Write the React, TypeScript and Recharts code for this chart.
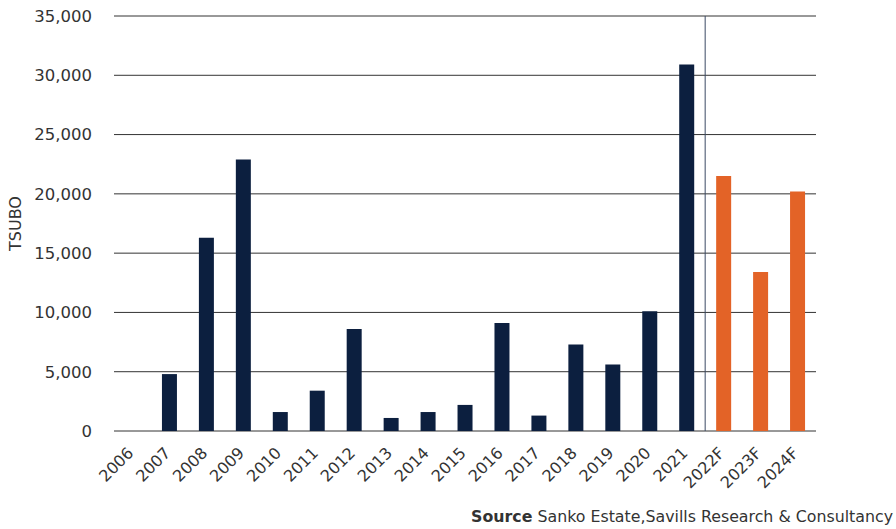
import React from 'react';
import { BarChart, Bar, XAxis, YAxis, CartesianGrid, ReferenceLine, Cell } from 'recharts';

const categories = ['2006','2007','2008','2009','2010','2011','2012','2013','2014','2015','2016','2017','2018','2019','2020','2021','2022F','2023F','2024F'];
const values = [0, 4800, 16300, 22900, 1600, 3400, 8600, 1100, 1600, 2200, 9100, 1300, 7300, 5600, 10100, 30900, 21500, 13400, 20200];
const yTicks = [0, 5000, 10000, 15000, 20000, 25000, 30000, 35000];
const lastActual = '2021';

const ACTUAL = '#0c1f3f';
const FORECAST = '#e36327';
const FONT = '"DejaVu Sans", sans-serif';
const TEXT = '#333333';

const W = 896;
const H = 529;
const MARGIN = { top: 16, right: 80, bottom: 38, left: 0 };
const Y_AXIS_W = 114;
const halfBand = (W - MARGIN.left - MARGIN.right - Y_AXIS_W) / categories.length / 2;

const data = categories.map((c, i) => ({ year: c, value: values[i], forecast: c.endsWith('F') }));

const fmt = (v: number) => v.toLocaleString('en-US');

const XTick = (props: any) => {
  const { x, y, payload } = props;
  return (
    <g transform={`translate(${x + 2},${y + 15})`}>
      <text x={0} y={0} textAnchor="end" transform="rotate(-45)" fill={TEXT} fontSize={16} fontFamily={FONT}>
        {payload.value}
      </text>
    </g>
  );
};

const DividerShape = (p: any) => {
  const x = p.x1 + halfBand;
  return <line x1={x} y1={p.y1} x2={x} y2={p.y2} stroke="#3b4a63" strokeWidth={1} />;
};

export default function App() {
  return (
    <div style={{ position: 'absolute', left: 0, top: 0, width: W, height: H, background: '#fff' }}>
      <BarChart width={W} height={H} data={data} margin={MARGIN}>
        <CartesianGrid vertical={false} stroke="#333" strokeWidth={1} />
        <XAxis dataKey="year" height={60} interval={0} tickLine={false} axisLine={false} tick={<XTick />} />
        <YAxis
          width={Y_AXIS_W}
          domain={[0, 35000]}
          ticks={yTicks}
          tickFormatter={fmt}
          tickLine={false}
          axisLine={false}
          tickMargin={16}
          tick={{ fill: TEXT, fontSize: 16.5, fontFamily: FONT }}
          label={{
            content: (p: any) => {
              const vb = p.viewBox;
              const cy = vb.y + vb.height / 2;
              return (
                <text x={15} y={cy} textAnchor="middle" dominantBaseline="central" transform={`rotate(-90 15 ${cy})`} fill={TEXT} fontSize={16} fontFamily={FONT}>
                  TSUBO
                </text>
              );
            },
          }}
        />
        <ReferenceLine x={lastActual} shape={<DividerShape />} />
        <Bar dataKey="value" barSize={15} isAnimationActive={false}>
          {data.map((d, i) => (
            <Cell key={i} fill={d.forecast ? FORECAST : ACTUAL} />
          ))}
        </Bar>
      </BarChart>
      <div style={{ position: 'absolute', right: 3, top: 507, fontFamily: FONT, fontSize: 15.8, color: TEXT, whiteSpace: 'nowrap', lineHeight: '20px' }}>
        <b>Source</b> Sanko Estate,Savills Research &amp; Consultancy
      </div>
    </div>
  );
}
